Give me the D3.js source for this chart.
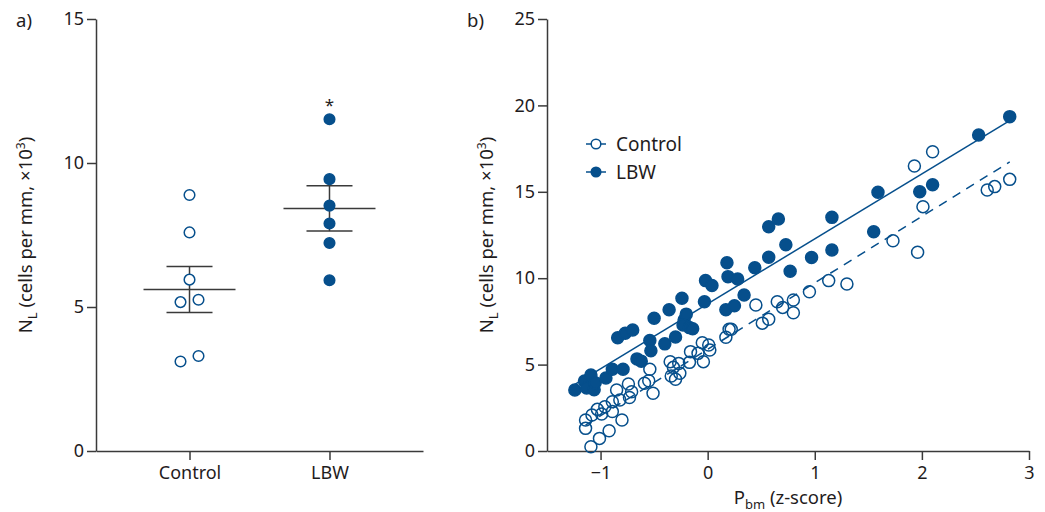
<!DOCTYPE html>
<html>
<head>
<meta charset="UTF-8">
<title>NL by group and Pbm</title>
<style>
html, body {
    margin: 0;
    padding: 0;
    background-color: #fff;
}
svg text {
    font-family: "Noto Sans", sans-serif;
    fill: #1f1c1d;
}
.axis path, .axis line {
    stroke: #3a3a3a;
    stroke-width: 1.5;
}
.axis text {
    font-size: 18px;
}
</style>
</head>
<body>
<div class="wrap"></div>
<script src="https://cdn.jsdelivr.net/npm/d3@7/dist/d3.min.js"></script>
<script>
// panel a: group values
let groups = ['Control', 'LBW'];
let controlValues = [8.89, 7.59, 5.95, 5.17, 5.25, 3.11, 3.30];
let lbwValues = [11.52, 9.44, 8.52, 7.90, 7.22, 5.93];
let yTicksA = [0, 5, 10, 15];

// panel b: Pbm z-score vs NL
let controlX = [-1.09, -1.01, -0.92, -1.14, -1.14, -1.08, -1.03, -0.96, -0.99, -0.89, -0.89, -0.80,
    -0.85, -0.82, -0.74, -0.71, -0.73, -0.54, -0.55, -0.59, -0.51, -0.35, -0.34, -0.30, -0.26,
    -0.32, -0.27, -0.17, -0.16, -0.09, -0.04, -0.05, 0.01, 0.02, 0.17, 0.20, 0.22, 0.45, 0.51,
    0.57, 0.65, 0.70, 0.80, 0.80, 0.95, 1.13, 1.30, 1.73, 1.96, 1.93, 2.10, 2.01, 2.61, 2.68, 2.82];
let controlY = [0.25, 0.73, 1.17, 1.31, 1.79, 2.08, 2.41, 2.56, 2.14, 2.28, 2.85, 1.79,
    3.53, 2.95, 3.88, 3.43, 3.10, 4.73, 4.07, 3.92, 3.34, 5.17, 4.34, 4.15, 4.50,
    4.84, 5.07, 5.13, 5.75, 5.65, 5.17, 6.27, 6.13, 5.84, 6.58, 7.04, 7.04, 8.45, 7.40,
    7.62, 8.64, 8.31, 8.74, 8.00, 9.22, 9.86, 9.66, 12.17, 11.50, 16.49, 17.32, 14.14, 15.10, 15.30, 15.72];
let lbwX = [-1.24, -1.15, -1.13, -1.09, -1.06, -1.05, -0.95, -0.89, -0.79, -0.84, -0.77, -0.70,
    -0.66, -0.62, -0.54, -0.53, -0.50, -0.40, -0.36, -0.30, -0.24, -0.22, -0.20, -0.23, -0.17,
    -0.14, -0.03, -0.02, 0.04, 0.17, 0.18, 0.19, 0.25, 0.28, 0.34, 0.44, 0.57, 0.77, 0.73,
    0.97, 0.57, 0.66, 1.16, 1.16, 1.55, 1.59, 1.98, 2.10, 2.53, 2.82];
let lbwY = [3.53, 4.05, 3.65, 4.40, 3.55, 3.95, 4.22, 4.73, 4.73, 6.55, 6.82, 7.00,
    5.33, 5.20, 6.40, 5.80, 7.68, 6.20, 8.18, 6.60, 8.84, 7.58, 7.92, 7.29, 7.14,
    7.08, 8.64, 9.86, 9.58, 8.18, 10.90, 10.09, 8.40, 9.95, 9.03, 10.61, 11.21, 10.40, 11.93,
    11.20, 12.98, 13.43, 13.52, 11.63, 12.69, 14.97, 15.00, 15.41, 18.29, 19.35];
let xTicksB = [-1, 0, 1, 2, 3];
let yTicksB = [0, 5, 10, 15, 20, 25];

let blue = '#064f8c';
let dark = '#3a3a3a';

let svg = d3.select('.wrap').append('svg')
    .attr('width', 1045)
    .attr('height', 512);

function yLabel(g, x, y) {
    let t = g.append('text')
        .attr('transform', `translate(${x},${y}) rotate(-90)`)
        .attr('text-anchor', 'middle')
        .style('font-size', '18.5px');
    t.append('tspan').text('N');
    t.append('tspan').attr('dy', 5).style('font-size', '13px').text('L');
    t.append('tspan').attr('dy', -5).text(' (cells per mm, \u00d710');
    t.append('tspan').attr('dy', -7).style('font-size', '12px').text('3');
    t.append('tspan').attr('dy', 7).text(')');
}

// ---------- panel a ----------
let xA = d3.scalePoint().domain(groups).range([96, 423]).padding(0.668);
let yA = d3.scaleLinear().domain([0, 15]).range([451, 19]);

svg.append('g')
    .attr('class', 'axis')
    .attr('transform', 'translate(96,0)')
    .call(d3.axisLeft(yA).tickValues(yTicksA).tickSize(9).tickSizeOuter(0).tickPadding(3));

svg.append('g')
    .attr('class', 'axis')
    .attr('transform', 'translate(0,451)')
    .call(d3.axisBottom(xA).tickSize(9).tickSizeOuter(0).tickPadding(6));

// dodge close values sideways
function dodge(values) {
    let sorted = values.map((v, i) => ({v, i})).sort((a, b) => a.v - b.v);
    let off = values.map(() => 0);
    for (let k = 0; k < sorted.length - 1; k++) {
        if (sorted[k + 1].v - sorted[k].v < 0.4) {
            off[sorted[k].i] = -9;
            off[sorted[k + 1].i] = 9;
            k++;
        }
    }
    return off;
}

let groupData = [controlValues, lbwValues];
groupData.forEach((vals, gi) => {
    let cx = xA(groups[gi]);
    let m = d3.mean(vals);
    let sem = d3.deviation(vals) / Math.sqrt(vals.length);
    let g = svg.append('g');
    g.append('line')
        .attr('x1', cx - 46).attr('x2', cx + 46)
        .attr('y1', yA(m)).attr('y2', yA(m));
    g.append('line')
        .attr('x1', cx).attr('x2', cx)
        .attr('y1', yA(m + sem)).attr('y2', yA(m - sem));
    [m + sem, m - sem].forEach(v => {
        g.append('line')
            .attr('x1', cx - 23).attr('x2', cx + 23)
            .attr('y1', yA(v)).attr('y2', yA(v));
    });
    g.selectAll('line').attr('stroke', dark).attr('stroke-width', 1.5);

    let off = dodge(vals);
    svg.append('g').selectAll('circle')
        .data(vals)
        .join('circle')
        .attr('cx', (d, i) => cx + off[i])
        .attr('cy', d => yA(d))
        .attr('r', 5.3)
        .attr('fill', gi === 0 ? '#fff' : blue)
        .attr('stroke', blue)
        .attr('stroke-width', 1.5);
});

svg.append('text')
    .attr('x', xA('LBW'))
    .attr('y', 111)
    .attr('text-anchor', 'middle')
    .style('font-size', '17px')
    .text('*');

svg.append('text').attr('x', 16).attr('y', 27).style('font-size', '18.5px').text('a)');
yLabel(svg, 32, 235);

// ---------- panel b ----------
let xB = d3.scaleLinear().domain([-1.5, 3]).range([547, 1029]);
let yB = d3.scaleLinear().domain([0, 25]).range([451, 19]);

svg.append('g')
    .attr('class', 'axis')
    .attr('transform', 'translate(547,0)')
    .call(d3.axisLeft(yB).tickValues(yTicksB).tickSize(9).tickSizeOuter(0).tickPadding(3));

svg.append('g')
    .attr('class', 'axis')
    .attr('transform', 'translate(0,451)')
    .call(d3.axisBottom(xB).tickValues(xTicksB).tickSize(9).tickSizeOuter(0).tickPadding(6)
        .tickFormat(d => d < 0 ? '\u2212' + Math.abs(d) : d));

svg.selectAll('.axis .tick text').attr('fill', '#1f1c1d');

function fit(xs, ys) {
    let mx = d3.mean(xs), my = d3.mean(ys);
    let sxy = d3.sum(xs, (x, i) => (x - mx) * (ys[i] - my));
    let sxx = d3.sum(xs, x => (x - mx) * (x - mx));
    let b = sxy / sxx;
    return {a: my - b * mx, b: b, x0: d3.min(xs), x1: d3.max(xs)};
}

let line = d3.line()
    .x(d => xB(d[0]))
    .y(d => yB(d[1]));

let series = [
    {xs: controlX, ys: controlY, fill: 'none', dash: '9,7'},
    {xs: lbwX, ys: lbwY, fill: blue, dash: null}
];

series.forEach(s => {
    let f = fit(s.xs, s.ys);
    svg.append('path')
        .attr('d', line([[f.x0, f.a + f.b * f.x0], [f.x1, f.a + f.b * f.x1]]))
        .attr('fill', 'none')
        .attr('stroke', blue)
        .attr('stroke-width', 1.5)
        .attr('stroke-dasharray', s.dash);
});

series.forEach(s => {
    svg.append('g').selectAll('circle')
        .data(s.xs)
        .join('circle')
        .attr('cx', d => xB(d))
        .attr('cy', (d, i) => yB(s.ys[i]))
        .attr('r', 6)
        .attr('fill', s.fill)
        .attr('stroke', blue)
        .attr('stroke-width', 1.5);
});

// legend
let legend = svg.append('g');
[['Control', '#fff'], ['LBW', blue]].forEach((d, i) => {
    let y = 144 + i * 28;
    legend.append('line')
        .attr('x1', 586).attr('x2', 606)
        .attr('y1', y).attr('y2', y)
        .attr('stroke', blue).attr('stroke-width', 1.5);
    legend.append('circle')
        .attr('cx', 596).attr('cy', y).attr('r', 4.8)
        .attr('fill', d[1])
        .attr('stroke', blue).attr('stroke-width', 1.5);
    legend.append('text')
        .attr('x', 616).attr('y', y + 6.5)
        .style('font-size', '19px')
        .text(d[0]);
});

svg.append('text').attr('x', 467).attr('y', 27).style('font-size', '18.5px').text('b)');
yLabel(svg, 493, 235);

let xt = svg.append('text')
    .attr('x', xB(0.75))
    .attr('y', 504)
    .attr('text-anchor', 'middle')
    .style('font-size', '18.5px');
xt.append('tspan').text('P');
xt.append('tspan').attr('dy', 5).style('font-size', '13px').text('bm');
xt.append('tspan').attr('dy', -5).text(' (z-score)');
</script>
</body>
</html>
